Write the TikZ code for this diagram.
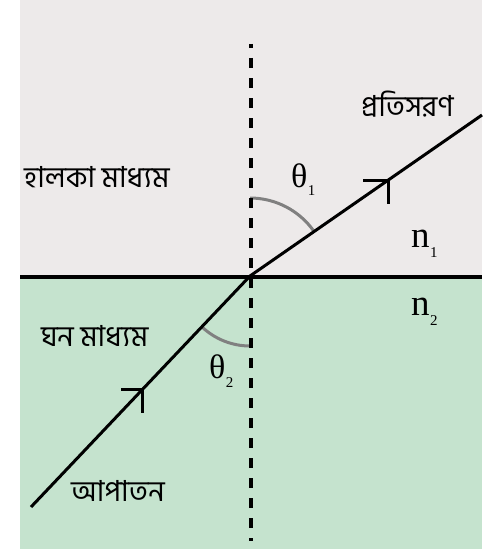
\documentclass[tikz,border=0pt]{standalone}
\usepackage{fontspec}
\newfontfamily\bn[Script=Bengali]{Hind Siliguri}
\newfontfamily\tm{Liberation Serif}
\usetikzlibrary{calc}
\definecolor{lightmed}{RGB}{237,234,234}
\definecolor{densemed}{RGB}{197,227,206}
\definecolor{arcgray}{RGB}{128,128,128}
\newcommand{\mylab}[5]{{\fontsize{#3}{#3}\selectfont #1}\kern0.5pt\raisebox{-#5}{\fontsize{#4}{#4}\selectfont #2}}
\tikzset{
  ray/.style={black, line width=3pt},
  barb/.style={black, line width=3pt},
  normalline/.style={black, line width=4pt, dash pattern=on 10pt off 10pt, dash phase=6pt},
  surface/.style={black, line width=4pt},
  anglearc/.style={arcgray, line width=3pt},
  bnlabel/.style={inner sep=0pt, anchor=base west, font=\bn\fontsize{29}{29}\selectfont},
  symlabel/.style={inner sep=0pt, anchor=base west, font=\tm}
}
\begin{document}
\begin{tikzpicture}[x=1pt,y=-1pt]
\useasboundingbox (0,0) rectangle (482,551);
% media
\fill[white] (0,0) rectangle (482,551);
\fill[lightmed] (20,0) rectangle (482,277);
\fill[densemed] (20,277) rectangle (482,549);
% key points
\coordinate (O) at (250,276);
\coordinate (Rend) at (482,115);
\coordinate (Istart) at (31,507);
\coordinate (Ntop) at (251,44);
\coordinate (Nbot) at (251,541);
\coordinate (Sleft) at (20,277);
\coordinate (Sright) at (482,277);
% angle arcs
\draw[anglearc] ([shift={(-90:78)}]O) arc[start angle=-90, end angle=-34.8, radius=78];
\draw[anglearc] ([shift={(90:70)}]O) arc[start angle=90, end angle=133.5, radius=70];
% normal and surface
\draw[normalline] (Ntop) -- (Nbot);
\draw[surface] (Sleft) -- (Sright);
% rays
\draw[ray] (Istart) -- (O);
\draw[ray] (O) -- (Rend);
\coordinate (A1) at ($(O)!0.595!(Rend)$);
\coordinate (A2) at ($(Istart)!0.507!(O)$);
\draw[barb] ([xshift=-25pt]A1) -- (A1) -- ([yshift=-24pt]A1);
\draw[barb] ([xshift=-21pt]A2) -- (A2) -- ([yshift=-23pt]A2);
% labels
\node[bnlabel] (refr) at (361,116) {প্রতিসরণ};
\node[bnlabel] (light) at (24,187) {হালকা মাধ্যম};
\node[bnlabel] (dense) at (41,346) {ঘন মাধ্যম};
\node[bnlabel] (inc) at (71,501) {আপাতন};
\node[symlabel] (t1) at (291,187) {\mylab{θ}{1}{34pt}{15pt}{8pt}};
\node[symlabel] (t2) at (209,378) {\mylab{θ}{2}{34pt}{15pt}{9pt}};
\node[symlabel] (n1) at (411,247) {\mylab{n}{1}{37pt}{15pt}{10pt}};
\node[symlabel] (n2) at (411,315) {\mylab{n}{2}{37pt}{15pt}{10pt}};
\end{tikzpicture}
\end{document}
